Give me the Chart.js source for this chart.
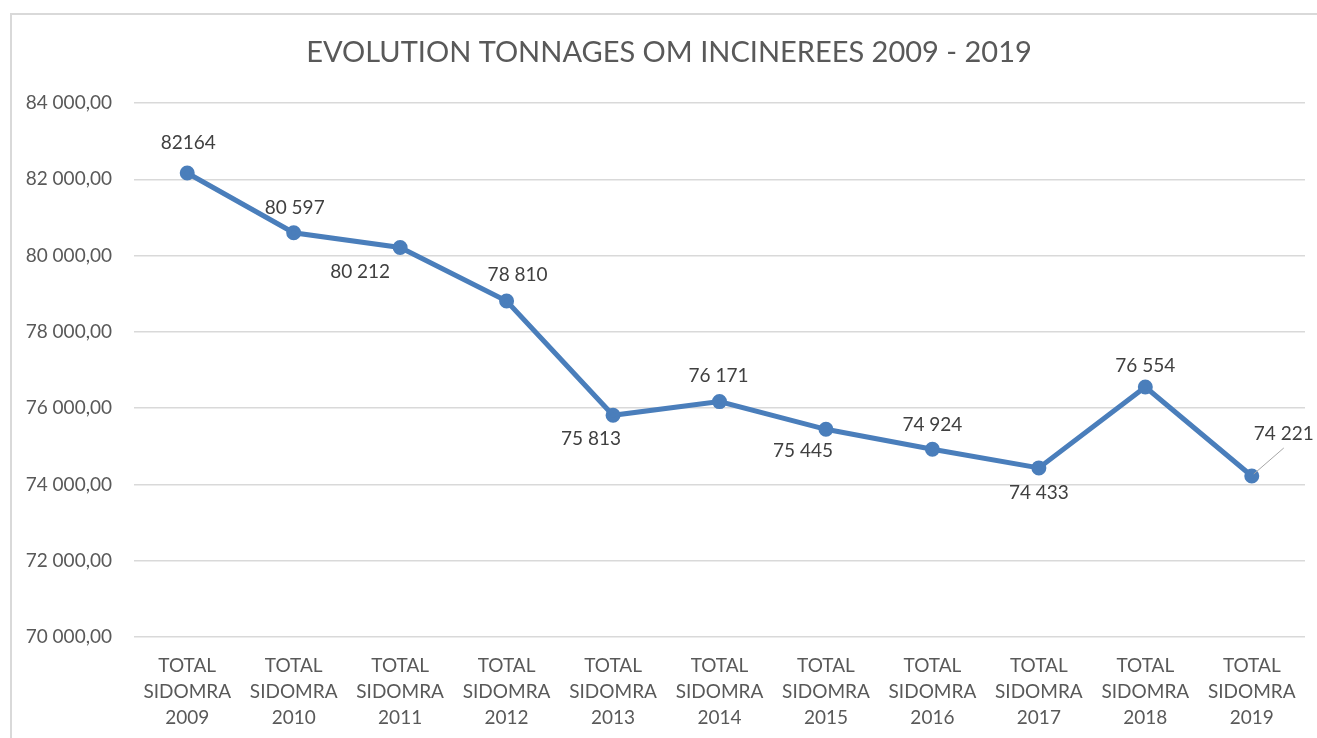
<!DOCTYPE html>
<html>
<head>
<meta charset="utf-8">
<script src="https://cdn.jsdelivr.net/npm/chart.js@4"></script>
<style>
    html, body { margin: 0; padding: 0; background: #fff; overflow: hidden; }
    #frame {
        position: absolute; left: 10px; top: 13px; width: 1400px; height: 800px;
        border-left: 2px solid #d9d9d9; border-top: 2px solid #d9d9d9;
    }
    #wrap { position: absolute; left: 0; top: 0; width: 1317px; height: 738px; }
</style>
</head>
<body>
<div id="frame"></div>
<div id="wrap"><canvas id="tonnageChart"></canvas></div>
<script>
// ===== Data =====
const years = ['2009', '2010', '2011', '2012', '2013', '2014', '2015', '2016', '2017', '2018', '2019'];
const tonnages = [82164, 80597, 80212, 78810, 75813, 76171, 75445, 74924, 74433, 76554, 74221];
const valueLabels = ['82164', '80 597', '80 212', '78 810', '75 813', '76 171', '75 445', '74 924', '74 433', '76 554', '74 221'];
const yTicks = [70000, 72000, 74000, 76000, 78000, 80000, 82000, 84000];
const chartTitle = 'EVOLUTION TONNAGES OM INCINEREES 2009 - 2019';

// label placement relative to each point (dx, dy) — like Excel's manual label positions
const labelOffsets = [[1, -30], [1, -25], [-40, 24], [11, -26], [-22, 24], [-1, -26], [-23, 22], [0, -24], [0, 25], [0, -21], [32, -42]];
const leaderLines = [false, false, false, false, false, false, false, false, false, false, true];

const textColor = '#595959';
const labelColor = '#404040';
const lineColor = '#4a7ebb';
const fontFamily = 'Lato, "Open Sans", sans-serif';

function formatTick(v) {
    const s = Math.round(v).toString().replace(/\B(?=(\d{3})+(?!\d))/g, ' ');
    return s + ',00';
}

// ===== Title plugin (Excel centres it a bit right of the canvas middle) =====
const excelTitle = {
    id: 'excelTitle',
    afterDraw(chart) {
        const ctx = chart.ctx;
        ctx.save();
        ctx.font = '29px ' + fontFamily;
        ctx.fillStyle = textColor;
        ctx.textAlign = 'center';
        ctx.textBaseline = 'middle';
        ctx.fillText(chartTitle, 669, 53);
        ctx.restore();
    }
};

// ===== Data labels plugin =====
const pointLabels = {
    id: 'pointLabels',
    afterDatasetsDraw(chart) {
        const ctx = chart.ctx;
        const meta = chart.getDatasetMeta(0);
        ctx.save();
        ctx.font = '19px ' + fontFamily;
        ctx.fillStyle = labelColor;
        ctx.textAlign = 'center';
        ctx.textBaseline = 'middle';
        meta.data.forEach((pt, i) => {
            const off = labelOffsets[i];
            const lx = pt.x + off[0];
            const ly = pt.y + off[1];
            if (leaderLines[i]) {
                ctx.strokeStyle = '#a6a6a6';
                ctx.lineWidth = 1;
                ctx.beginPath();
                ctx.moveTo(pt.x + 2, pt.y - 2);
                ctx.lineTo(lx, ly + 14);
                ctx.stroke();
            }
            ctx.fillText(valueLabels[i], lx, ly);
        });
        ctx.restore();
    }
};

const ctx = document.getElementById('tonnageChart');
new Chart(ctx, {
    type: 'line',
    data: {
        labels: years.map(y => ['TOTAL', 'SIDOMRA', y]),
        datasets: [{
            label: 'Tonnages OM incinérées',
            data: tonnages,
            borderColor: lineColor,
            backgroundColor: lineColor,
            borderWidth: 5,
            pointRadius: 5,
            pointHoverRadius: 5,
            tension: 0
        }]
    },
    options: {
        responsive: true,
        maintainAspectRatio: false,
        animation: false,
        layout: { padding: { left: 0, right: 12, top: 103, bottom: 0 } },
        plugins: {
            legend: { display: false },
            tooltip: { enabled: false },
            title: { display: false }
        },
        scales: {
            x: {
                offset: true,
                grid: { display: false, drawTicks: false },
                border: { display: false },
                ticks: {
                    color: textColor,
                    padding: 16,
                    maxRotation: 0,
                    autoSkip: false,
                    font: { family: fontFamily, size: 19, lineHeight: 1.37 }
                },
                afterFit(scale) { scale.height = 101; }
            },
            y: {
                min: yTicks[0],
                max: yTicks[yTicks.length - 1],
                grid: { color: '#d9d9d9', lineWidth: 1.5, drawTicks: false },
                border: { display: false },
                afterBuildTicks(scale) { scale.ticks = yTicks.map(v => ({ value: v })); },
                ticks: {
                    color: textColor,
                    padding: 22,
                    font: { family: fontFamily, size: 19 },
                    callback: v => formatTick(v)
                },
                afterFit(scale) { scale.width = 134; }
            }
        }
    },
    plugins: [pointLabels, excelTitle]
});
</script>
</body>
</html>
